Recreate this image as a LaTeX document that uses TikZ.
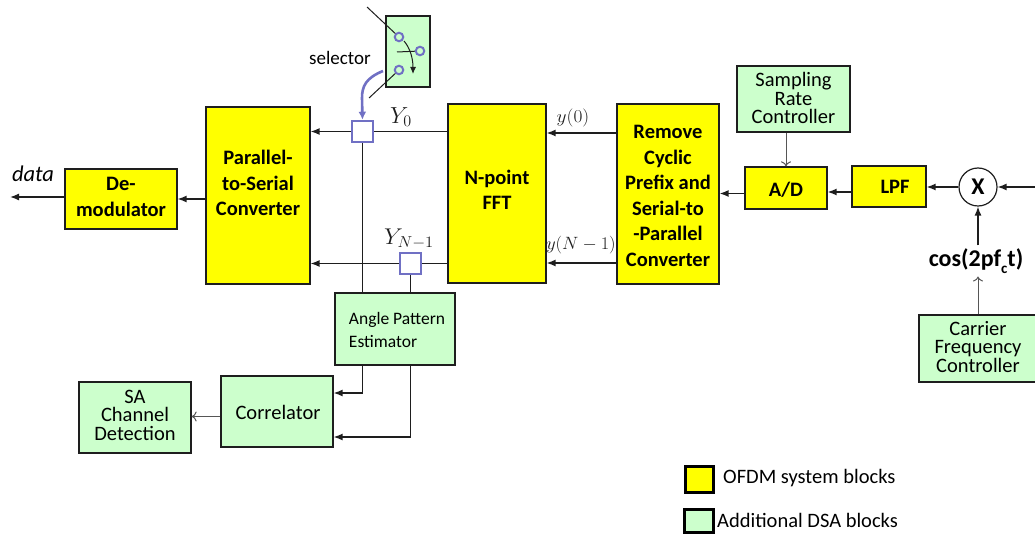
\documentclass[tikz,border=0pt]{standalone}
\usepackage{graphicx}
\usepackage{fontspec}
\setmainfont{Carlito}
\usetikzlibrary{arrows.meta,calc}
\definecolor{ofdm}{RGB}{255,255,0}
\definecolor{dsa}{RGB}{204,255,204}
\definecolor{selc}{RGB}{112,112,196}
\definecolor{ln}{RGB}{30,30,30}
\begin{document}
\begin{tikzpicture}[x=1pt,y=-1pt,
  yb/.style={draw=ln, line width=1.3pt, fill=ofdm, inner sep=0pt},
  gb/.style={draw=ln, line width=1.3pt, fill=dsa, inner sep=0pt},
  bt/.style={font=\fontsize{20.5}{25.5}\selectfont\bfseries, align=center, inner sep=0pt},
  gt/.style={font=\fontsize{20.5}{18.5}\selectfont, align=center, inner sep=0pt},
  lt/.style={font=\fontsize{20.5}{24}\selectfont, inner sep=0pt},
  con/.style={draw=ln, line width=1.35pt},
  arr/.style={con, -{Latex[length=9pt,width=7pt]}},
  oarr/.style={draw=ln!75, line width=1pt, -{To[length=5pt,width=10pt]}},
  sq/.style={draw=selc, line width=2.6pt, fill=white, minimum size=21pt, inner sep=0pt},
  ring/.style={draw=selc, line width=2pt, circle, minimum size=8.5pt, inner sep=0pt},
  mt/.style={inner sep=0pt, text=ln},
]
\useasboundingbox (0,0) rectangle (1035,537);
\clip (0,0) rectangle (1035,537);

% OFDM blocks
\node[yb, minimum width=112pt, minimum height=60pt] (demod) at (121,199) {};
\node[bt] (demodtxt) at (121,197) {De-\\modulator};
\node[yb, minimum width=104pt, minimum height=177pt] (ps) at (258,195.5) {};
\node[bt] (pstxt) at (258,183) {Parallel-\\to-Serial\\Converter};
\node[yb, minimum width=98pt, minimum height=179pt] (fft) at (497,193.5) {};
\node[bt] (ffttxt) at (497,190) {N-point\\FFT};
\node[yb, minimum width=102pt, minimum height=180pt] (rcp) at (668,194) {};
\node[bt] (rcptxt) at (668,196) {Remove\\Cyclic\\Prefix and\\Serial-to\\-Parallel\\Converter};
\node[yb, minimum width=82pt, minimum height=42pt] (ad) at (786,188) {};
\node[bt] (adtxt) at (786,190) {A/D};
\node[yb, minimum width=74pt, minimum height=41pt] (lpf) at (889,186.5) {};
\node[bt] (lpftxt) at (895,187) {LPF};
\node[draw=ln, line width=1.2pt, circle, fill=white, minimum size=38pt, inner sep=0pt,
      font=\fontsize{24}{24}\selectfont\bfseries] (mix) at (978,187) {X};

% DSA blocks
\node[gb, minimum width=113pt, minimum height=66pt] (src) at (793.5,99) {};
\node[gt] (srctxt) at (793.5,98) {Sampling\\Rate\\Controller};
\node[gb, minimum width=121pt, minimum height=67pt] (cfc) at (979.5,348.5) {};
\node[gt] (cfctxt) at (978,347) {Carrier\\Frequency\\Controller};
\node[gb, minimum width=120pt, minimum height=72pt] (ape) at (395,329) {};
\node[font=\fontsize{17.5}{22.5}\selectfont, align=left, inner sep=0pt] (apetxt) at (397,330) {Angle Pattern\\Estimator};
\node[gb, minimum width=112pt, minimum height=71pt] (corr) at (277,411.5) {};
\node[gt] (corrtxt) at (278,412) {Correlator};
\node[gb, minimum width=112pt, minimum height=71pt] (sa) at (135,417.5) {};
\node[gt] (satxt) at (135,415) {SA\\Channel\\Detection};
\node[gb, minimum width=44pt, minimum height=71pt] (selbox) at (408,51.5) {};

% selector internals
\node[ring, fill=dsa] (c1) at (399,37) {};
\node[ring, fill=dsa] (c2) at (420,51) {};
\node[ring, fill=dsa] (c3) at (399,70) {};
\coordinate (selin) at (367,7);
\coordinate (selout) at (369,98);
\coordinate (hstart) at (397,52);
\draw[ln, line width=1pt] (selin) -- (c1);
\draw[ln, line width=1pt] (c3) -- (selout);
\draw[ln, line width=1pt] (hstart) -- (c2);
\coordinate (cs) at (404,41);
\coordinate (ce) at (413,74);
\draw[ln, line width=1pt, -{Latex[length=7pt,width=6pt]}] (cs) .. controls (410,48) and (413,58) .. (ce);
\node[lt, font=\fontsize{19}{22}\selectfont] (seltxt) at (340,58) {selector};

% squares
\node[sq] (y0sq) at (362.5,131.5) {};
\node[sq] (ynsq) at (410.5,263.5) {};
\node[mt, font=\fontsize{20.74}{22}\selectfont] (y0lab) at (401,117) {\scalebox{1.12}{$Y_0$}};
\node[mt, font=\fontsize{20.74}{22}\selectfont] (ynlab) at (409,239) {\scalebox{1.15}[1.1]{$Y_{N-1}$}};
\node[mt, font=\fontsize{17.28}{18}\selectfont] (y0in) at (573,118) {\scalebox{1.12}[1.05]{$y(0)$}};
\node[mt, font=\fontsize{17.28}{18}\selectfont] (ynin) at (581,245) {\scalebox{1.06}[1.03]{$y(N-1)$}};

% blue selector arrow
\coordinate (bstart) at (383,71);
\draw[selc, line width=2.6pt, -{Latex[length=8pt,width=8pt]}] (bstart) .. controls (366,78) and (362,86) .. (362,98) -- (y0sq.north);

% connectors
\draw[con] (fft.west |- y0sq) -- (y0sq.east);
\draw[arr] (y0sq.west) -- (ps.east |- y0sq);
\draw[con] (fft.west |- ynsq) -- (ynsq.east);
\draw[arr] (ynsq.west) -- (ps.east |- ynsq);
\draw[con] (y0sq.south) -- (y0sq.south |- ape.north);
\draw[con] (ynsq.south) -- (ynsq.south |- ape.north);
\draw[arr] (y0sq.south |- ape.south) |- ($(corr.east)+(0,-18.5)$);
\draw[arr] (ynsq.south |- ape.south) |- ($(corr.east)+(0,25.5)$);
\draw[oarr] ($(corr.west)+(0,5)$) -- ($(sa.east)+(0,-1)$);
\draw[arr] (ps.west |- demod.east) -- (demod.east);
\coordinate (dataend) at (10,197);
\draw[arr] (demod.west |- dataend) -- (dataend);
\node[inner sep=0pt, font=\fontsize{22.5}{22}\selectfont\itshape] (datatxt) at (33,174) {data};
\draw[arr] ($(rcp.west)+(0,-61)$) -- ($(fft.east)+(0,-60.5)$);
\draw[arr] ($(rcp.west)+(0,69)$) -- ($(fft.east)+(0,69.5)$);
\draw[arr] ($(ad.west)+(0,5.5)$) -- ($(rcp.east)+(0,-0.5)$);
\draw[arr] ($(lpf.west)+(0,5.5)$) -- ($(ad.east)+(0,4)$);
\draw[arr] (mix.west) -- (lpf.east |- mix.west);
\coordinate (rin) at (1040,187);
\draw[arr] (rin) -- (mix.east);
\draw[oarr] (ad.north |- src.south) -- (ad.north);
\node[inner sep=0pt, font=\fontsize{24}{24}\selectfont\bfseries] (cos) at (976,261)
  {cos(2pf\raisebox{-0.28em}{\fontsize{15}{15}\selectfont c}t)};
\draw[arr] (mix.south |- cos.north) ++(0,-3) -- (mix.south);
\draw[oarr] (cfc.north -| mix.south) -- ($(mix.south |- cos.south)+(0,3)$);

% legend
\node[draw=black, line width=3pt, fill=ofdm, minimum width=28pt, minimum height=26pt, inner sep=0pt] (leg1) at (699,479) {};
\node[lt, anchor=west] (leg1txt) at (723,478) {OFDM system blocks};
\node[draw=black, line width=3pt, fill=dsa, minimum width=29pt, minimum height=23pt, inner sep=0pt] (leg2) at (698.5,520.5) {};
\node[lt, anchor=west] (leg2txt) at (717,520) {Additional DSA blocks};
\end{tikzpicture}
\end{document}
